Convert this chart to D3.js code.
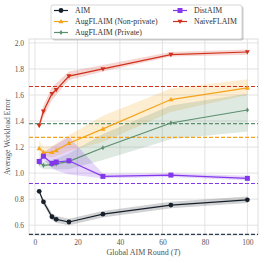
<!DOCTYPE html>
<html>
<head>
<meta charset="utf-8">
<script src="https://cdn.jsdelivr.net/npm/d3@7"></script>
<style>
  body { margin: 0; background: #fff; }
  svg text { font-family: "Liberation Serif", "DejaVu Serif", serif; }
</style>
</head>
<body>
<div id="chart"></div>
<script>
// rounds on x axis
var rounds = [2, 4, 8, 10, 16, 32, 64, 100];

// mean / lower / upper per method
var aimMean = [0.86, 0.78, 0.665, 0.645, 0.625, 0.685, 0.755, 0.795];
var aimLow  = [0.85, 0.76, 0.64, 0.62, 0.60, 0.66, 0.73, 0.77];
var aimHigh = [0.87, 0.80, 0.69, 0.67, 0.65, 0.71, 0.78, 0.82];

var augNpMean = [1.19, 1.16, 1.16, 1.175, 1.23, 1.34, 1.565, 1.655];
var augNpLow  = [1.13, 1.13, 1.12, 1.13, 1.17, 1.24, 1.47, 1.60];
var augNpHigh = [1.25, 1.20, 1.21, 1.23, 1.29, 1.44, 1.65, 1.72];

var augPMean = [1.08, 1.06, 1.065, 1.07, 1.09, 1.195, 1.385, 1.485];
var augPLow  = [1.05, 1.03, 1.03, 1.03, 1.03, 1.10, 1.26, 1.32];
var augPHigh = [1.11, 1.09, 1.10, 1.11, 1.15, 1.30, 1.52, 1.61];

var distMean = [1.09, 1.13, 1.075, 1.085, 1.095, 0.975, 0.985, 0.96];
var distLow  = [1.05, 1.10, 1.04, 1.02, 0.99, 0.96, 0.97, 0.945];
var distHigh = [1.12, 1.16, 1.20, 1.22, 1.28, 0.995, 1.00, 0.98];

var naiveMean = [1.365, 1.475, 1.61, 1.64, 1.745, 1.80, 1.91, 1.93];
var naiveLow  = [1.35, 1.43, 1.56, 1.60, 1.715, 1.78, 1.895, 1.91];
var naiveHigh = [1.39, 1.52, 1.66, 1.69, 1.78, 1.83, 1.93, 1.95];

// centralised baselines (dashed)
var baselines = [1.665, 1.38, 1.275, 0.92, 0.53];

var xTicks = [0, 20, 40, 60, 80, 100];
var yTicks = [0.6, 0.8, 1.0, 1.2, 1.4, 1.6, 1.8, 2.0];

var svgWidth = 266, svgHeight = 263;
var margin = { top: 39, right: 8, bottom: 28, left: 29 };
var width = svgWidth - margin.left - margin.right;
var height = svgHeight - margin.top - margin.bottom;

var svg = d3.select("#chart").append("svg")
  .attr("width", svgWidth)
  .attr("height", svgHeight);

var chartGroup = svg.append("g")
  .attr("transform", `translate(${margin.left}, ${margin.top})`);

var x = d3.scaleLinear().domain([-2.8, 105]).range([0, width]);
var y = d3.scaleLinear().domain([0.525, 2.03]).range([height, 0]);

// grid
chartGroup.selectAll(".xgrid").data(xTicks).enter().append("line")
  .attr("x1", d => x(d)).attr("x2", d => x(d))
  .attr("y1", 0).attr("y2", height)
  .attr("stroke", "#e0e0e0").attr("stroke-width", 0.9);
chartGroup.selectAll(".ygrid").data(yTicks).enter().append("line")
  .attr("x1", 0).attr("x2", width)
  .attr("y1", d => y(d)).attr("y2", d => y(d))
  .attr("stroke", "#e0e0e0").attr("stroke-width", 0.9);

chartGroup.append("rect")
  .attr("width", width).attr("height", height)
  .attr("fill", "none").attr("stroke", "#d4d4d4").attr("stroke-width", 0.8);

var series = [
  { name: "NaiveFLAIM", color: "#d0301c", mean: naiveMean, low: naiveLow, high: naiveHigh, marker: "tridown" },
  { name: "AugFLAIM (Non-private)", color: "#f5a31a", mean: augNpMean, low: augNpLow, high: augNpHigh, marker: "triup" },
  { name: "AugFLAIM (Private)", color: "#5b8f6d", mean: augPMean, low: augPLow, high: augPHigh, marker: "diamond" },
  { name: "DistAIM", color: "#8338ec", mean: distMean, low: distLow, high: distHigh, marker: "square" },
  { name: "AIM", color: "#17202a", mean: aimMean, low: aimLow, high: aimHigh, marker: "circle" }
];

var area = d3.area()
  .x(d => x(d.r)).y0(d => y(d.lo)).y1(d => y(d.hi));
var line = d3.line().x(d => x(d.r)).y(d => y(d.m));

function rows(s) {
  return rounds.map((r, i) => ({ r: r, m: s.mean[i], lo: s.low[i], hi: s.high[i] }));
}

series.forEach(function(s) {
  chartGroup.append("path").datum(rows(s))
    .attr("d", area).attr("fill", s.color).attr("fill-opacity", 0.2)
    .attr("stroke", "none");
});

// dashed baselines
var baseColors = ["#d0301c", "#5b8f6d", "#f5a31a", "#8338ec", "#2c3e50"];
chartGroup.selectAll(".base").data(baselines).enter().append("line")
  .attr("x1", 0).attr("x2", width)
  .attr("y1", d => y(d)).attr("y2", d => y(d))
  .attr("stroke", (d, i) => baseColors[i])
  .attr("stroke-width", 1.1)
  .attr("stroke-dasharray", "4,2");

function drawMarker(g, type, cx, cy, color) {
  if (type === "circle") {
    g.append("circle").attr("cx", cx).attr("cy", cy).attr("r", 2.4).attr("fill", color);
  } else if (type === "square") {
    g.append("rect").attr("x", cx - 2.5).attr("y", cy - 2.5).attr("width", 5).attr("height", 5).attr("fill", color);
  } else if (type === "triup") {
    g.append("path").attr("d", `M${cx},${cy - 2.6}L${cx + 2.5},${cy + 1.8}L${cx - 2.5},${cy + 1.8}Z`).attr("fill", color);
  } else if (type === "tridown") {
    g.append("path").attr("d", `M${cx},${cy + 2.6}L${cx + 2.5},${cy - 1.8}L${cx - 2.5},${cy - 1.8}Z`).attr("fill", color);
  } else {
    g.append("path").attr("d", `M${cx},${cy - 2.6}L${cx + 1.6},${cy}L${cx},${cy + 2.6}L${cx - 1.6},${cy}Z`).attr("fill", color);
  }
}

series.forEach(function(s) {
  chartGroup.append("path").datum(rows(s))
    .attr("d", line).attr("fill", "none")
    .attr("stroke", s.color).attr("stroke-width", 1.2);
  rows(s).forEach(function(d) {
    drawMarker(chartGroup, s.marker, x(d.r), y(d.m), s.color);
  });
});

// axes
var bottomAxis = d3.axisBottom(x).tickValues(xTicks).tickSize(0).tickPadding(5);
var leftAxis = d3.axisLeft(y).tickValues(yTicks).tickSize(0).tickPadding(5).tickFormat(d3.format(".1f"));

var xAxis = chartGroup.append("g")
  .attr("transform", `translate(0, ${height})`)
  .call(bottomAxis);
var yAxis = chartGroup.append("g").call(leftAxis);

[xAxis, yAxis].forEach(function(a) {
  a.select(".domain").remove();
  a.selectAll("text").attr("font-size", 7.5).attr("fill", "#555")
    .style("font-family", "'Liberation Serif', serif");
});

// axis labels
var xlab = svg.append("text")
  .attr("x", margin.left + width / 2)
  .attr("y", 255)
  .attr("text-anchor", "middle")
  .attr("font-size", 8)
  .attr("fill", "#555");
xlab.append("tspan").text("Global AIM Round (");
xlab.append("tspan").attr("font-style", "italic").text("T");
xlab.append("tspan").text(")");

svg.append("text")
  .attr("transform", `translate(9.5, 137) rotate(-90)`)
  .attr("text-anchor", "middle")
  .attr("font-size", 7.8)
  .attr("fill", "#555")
  .text("Average Workload Error");

// legend
var legend = svg.append("g").attr("transform", "translate(51, 5)");
legend.append("rect")
  .attr("x", 1.5).attr("y", 1.5).attr("width", 191).attr("height", 34)
  .attr("rx", 2).attr("fill", "#999").attr("opacity", 0.5);
legend.append("rect")
  .attr("width", 191).attr("height", 34)
  .attr("rx", 2).attr("fill", "#fff").attr("stroke", "#ccc").attr("stroke-width", 0.8);

var legendItems = [
  { s: series[4], col: 0, row: 0 },
  { s: series[1], col: 0, row: 1 },
  { s: series[2], col: 0, row: 2 },
  { s: series[3], col: 1, row: 0 },
  { s: series[0], col: 1, row: 1 }
];
legendItems.forEach(function(it) {
  var lx = it.col === 0 ? 3 : 122;
  var ly = 5.5 + it.row * 11;
  legend.append("line")
    .attr("x1", lx).attr("x2", lx + 14)
    .attr("y1", ly).attr("y2", ly)
    .attr("stroke", it.s.color).attr("stroke-width", 1.2);
  drawMarker(legend, it.s.marker, lx + 7, ly, it.s.color);
  legend.append("text")
    .attr("x", lx + 21).attr("y", ly + 2.6)
    .attr("font-size", 7.8).attr("fill", "#333")
    .text(it.s.name);
});
</script>
</body>
</html>
